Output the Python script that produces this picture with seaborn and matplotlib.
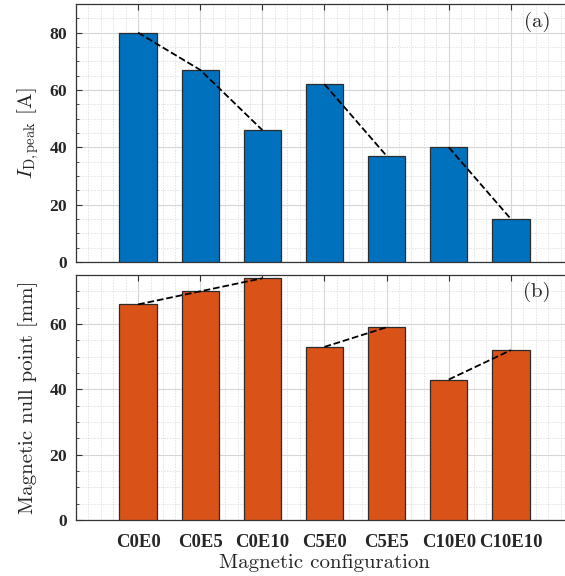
import numpy as np
import pandas as pd
import matplotlib
matplotlib.use("Agg")
import matplotlib.pyplot as plt
from matplotlib.ticker import MultipleLocator
from matplotlib.font_manager import FontProperties
import seaborn as sns

# Data
configs = ["C0E0", "C0E5", "C0E10", "C5E0", "C5E5", "C10E0", "C10E10"]
peak_current = [80, 67, 46, 62, 37, 40, 15]        # I_D,peak [A]
null_point = [66, 70, 74, 53, 59, 43, 52]          # magnetic null point [mm]
# configurations joined by dashed trend lines (same C value)
trend_groups = [["C0E0", "C0E5", "C0E10"], ["C5E0", "C5E5"], ["C10E0", "C10E10"]]

BLUE = "#0072BD"
ORANGE = "#D95319"

sns.set_theme(style="white")
plt.rcParams["font.family"] = ["cmr10", "DejaVu Serif"]
plt.rcParams["mathtext.fontset"] = "cm"
plt.rcParams["axes.unicode_minus"] = False
plt.rcParams["axes.formatter.use_mathtext"] = True

W, H = 565, 576
fig = plt.figure(figsize=(W / 100, H / 100), dpi=100)

def px_axes(left, right, top, bottom):
    return fig.add_axes([left / W, 1 - bottom / H, (right - left) / W, (bottom - top) / H])

ax_a = px_axes(76, 573, 4, 262)
ax_b = px_axes(76, 573, 275, 520)

df = pd.DataFrame({"config": configs, "peak": peak_current, "null": null_point})
pos = {c: i for i, c in enumerate(configs)}

ytick_font = FontProperties(family="Liberation Serif", weight="bold", size=12.5)
xtick_font = FontProperties(family="Liberation Serif", weight="bold", size=13.5)

for ax, col, color, ymax, tag in [
    (ax_a, "peak", BLUE, 90, "(a)"),
    (ax_b, "null", ORANGE, 75, "(b)"),
]:
    sns.barplot(data=df, x="config", y=col, color=color, width=0.6,
                edgecolor="#2b2b2b", linewidth=0.9, saturation=1, ax=ax, zorder=3)
    for grp in trend_groups:
        xs = [pos[c] for c in grp]
        ys = [df.loc[df.config == c, col].iloc[0] for c in grp]
        sns.lineplot(x=xs, y=ys, color="black", linestyle="--", linewidth=1.3,
                     ax=ax, zorder=4, dashes=(3.5, 3))
    ax.set_xlim(-1, 7)
    ax.set_ylim(0, ymax)
    ax.yaxis.set_major_locator(MultipleLocator(20))
    ax.yaxis.set_minor_locator(MultipleLocator(5))
    ax.xaxis.set_minor_locator(MultipleLocator(0.2))
    ax.set_axisbelow(True)
    ax.grid(which="major", color="#d6d6d6", linewidth=0.8, linestyle="-", zorder=0)
    ax.grid(which="minor", color="#e0e0e0", linewidth=0.6, linestyle=(0, (2, 1.5)), zorder=0)
    ax.tick_params(axis="both", which="major", direction="in", length=4.5, width=0.8,
                   color="#333333", top=True, bottom=True, left=True, right=False)
    ax.tick_params(axis="y", which="minor", direction="in", length=2.5, width=0.6,
                   color="#333333", left=True, right=False)
    ax.tick_params(axis="x", which="minor", length=0)
    for s in ["top", "bottom", "left"]:
        ax.spines[s].set_color("#333333")
        ax.spines[s].set_linewidth(0.9)
    ax.spines["right"].set_visible(False)
    for lab in ax.get_yticklabels():
        lab.set_fontproperties(ytick_font)
        lab.set_color("#262626")
    ax.tick_params(axis="y", pad=6)
    ax.text(0.955, 0.93, tag, transform=ax.transAxes, ha="right", va="center",
            fontsize=15, family="cmr10", color="#262626")

ax_a.set_xticks(range(len(configs)))
ax_a.set_xticklabels([])
ax_a.set_xlabel("")
ax_a.set_ylabel(r"$I_{\mathrm{D,peak}}$ [A]", fontsize=15, labelpad=6, color="#262626")

ax_b.set_xticks(range(len(configs)))
ax_b.set_xticklabels(configs)
for lab in ax_b.get_xticklabels():
    lab.set_fontproperties(xtick_font)
    lab.set_color("#262626")
ax_b.tick_params(axis="x", pad=10)
ax_b.set_xlabel("Magnetic configuration", fontsize=15, labelpad=2, color="#262626")
ax_b.set_ylabel("Magnetic null point [mm]", fontsize=15, labelpad=8, color="#262626")

fig.savefig("out.png", dpi=100)
